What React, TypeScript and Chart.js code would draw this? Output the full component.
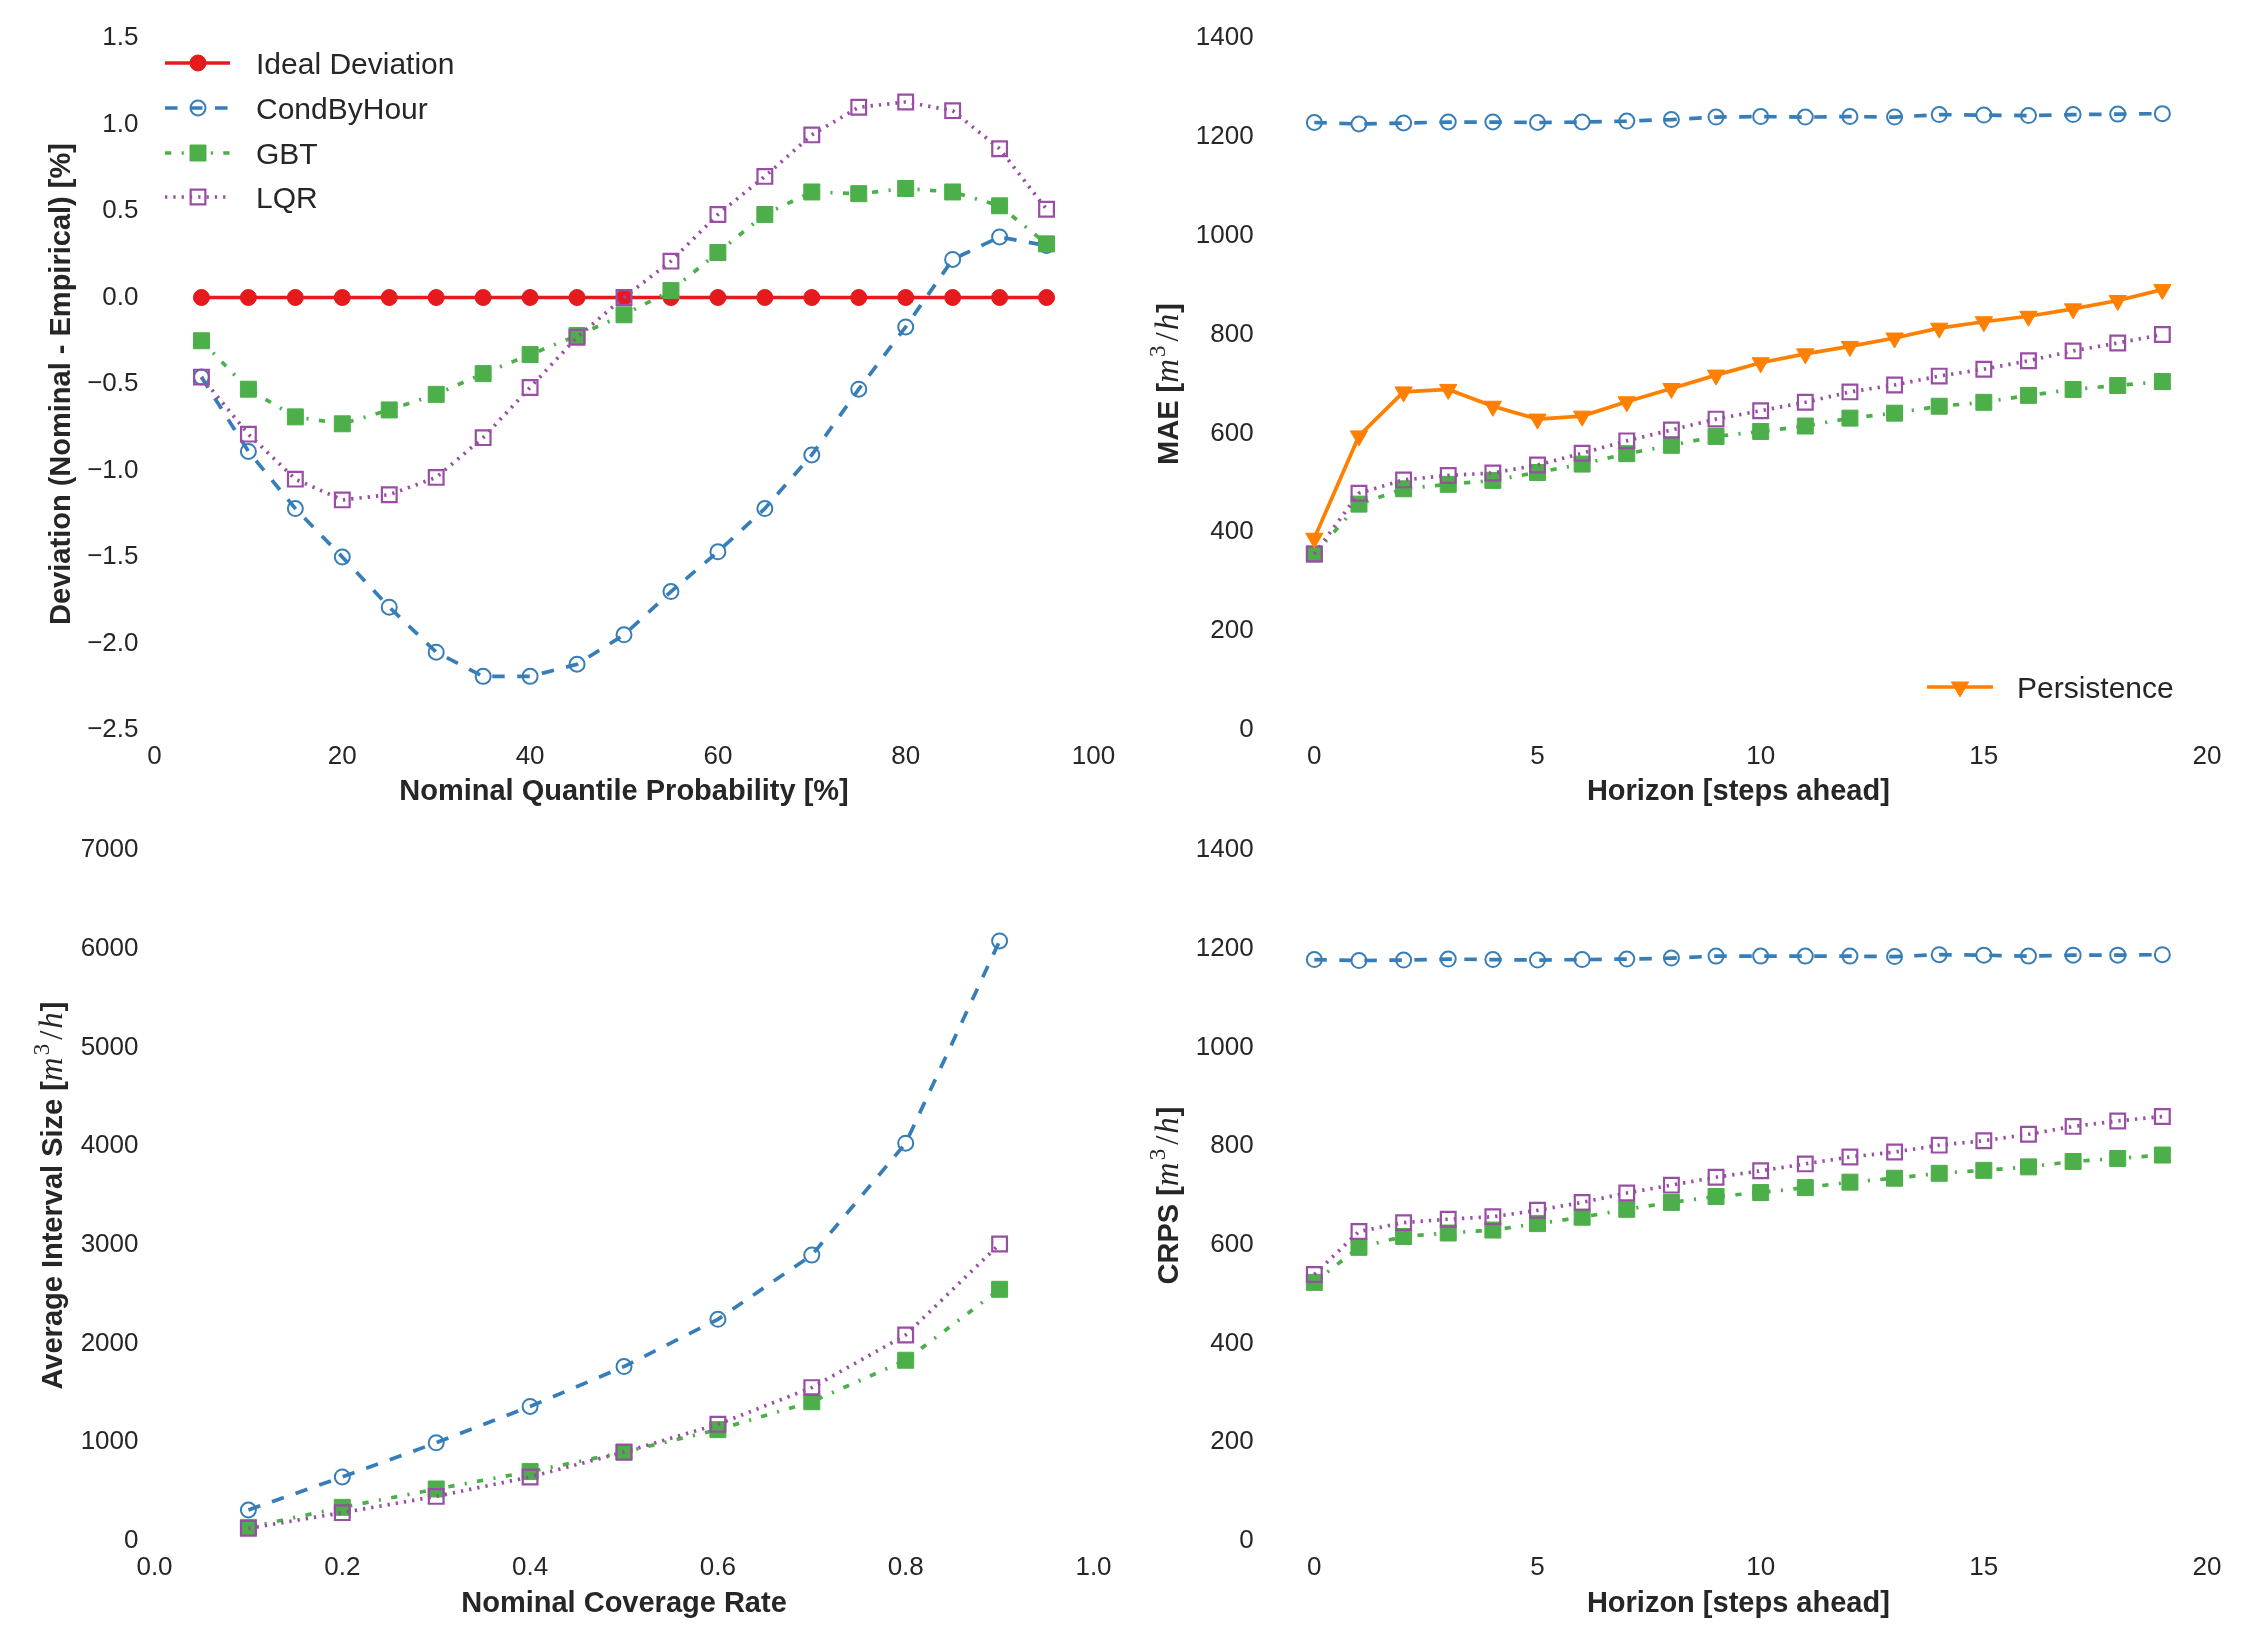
import React, { useEffect, useRef } from 'react';
import { Chart, registerables } from 'chart.js';

Chart.register(...registerables);

const W = 2250;
const H = 1650;

// ---------------- data ----------------
const quantileProbs = [5, 10, 15, 20, 25, 30, 35, 40, 45, 50, 55, 60, 65, 70, 75, 80, 85, 90, 95];
const idealDeviation = [0, 0, 0, 0, 0, 0, 0, 0, 0, 0, 0, 0, 0, 0, 0, 0, 0, 0, 0];
const condByHourDeviation = [-0.46, -0.89, -1.22, -1.5, -1.79, -2.05, -2.19, -2.19, -2.12, -1.95, -1.7, -1.47, -1.22, -0.91, -0.53, -0.17, 0.22, 0.35, 0.3];
const gbtDeviation = [-0.25, -0.53, -0.69, -0.73, -0.65, -0.56, -0.44, -0.33, -0.22, -0.1, 0.04, 0.26, 0.48, 0.61, 0.6, 0.63, 0.61, 0.53, 0.31];
const lqrDeviation = [-0.46, -0.79, -1.05, -1.17, -1.14, -1.04, -0.81, -0.52, -0.23, 0.0, 0.21, 0.48, 0.7, 0.94, 1.1, 1.13, 1.08, 0.86, 0.51];

const horizons = [0, 1, 2, 3, 4, 5, 6, 7, 8, 9, 10, 11, 12, 13, 14, 15, 16, 17, 18, 19];
const condByHourMAE = [1229, 1226, 1228, 1230, 1230, 1229, 1230, 1232, 1235, 1240, 1241, 1240, 1241, 1240, 1245, 1244, 1243, 1245, 1246, 1247];
const gbtMAE = [356, 457, 488, 497, 505, 521, 538, 559, 576, 594, 604, 615, 631, 641, 655, 663, 677, 689, 697, 705];
const lqrMAE = [356, 479, 506, 515, 520, 536, 560, 585, 607, 629, 646, 663, 684, 698, 716, 730, 747, 767, 783, 800];
const persistenceMAE = [388, 595, 684, 689, 655, 629, 635, 664, 691, 718, 743, 761, 776, 793, 813, 826, 837, 852, 869, 891];

const coverageRates = [0.1, 0.2, 0.3, 0.4, 0.5, 0.6, 0.7, 0.8, 0.9];
const condByHourWidth = [314, 649, 995, 1363, 1767, 2246, 2896, 4030, 6079];
const gbtWidth = [138, 341, 527, 703, 900, 1128, 1411, 1831, 2550];
const lqrWidth = [128, 287, 452, 649, 900, 1182, 1554, 2087, 3008];

const condByHourCRPS = [1178, 1176, 1177, 1179, 1178, 1177, 1178, 1179, 1181, 1185, 1185, 1185, 1185, 1184, 1188, 1187, 1185, 1187, 1187, 1188];
const gbtCRPS = [524, 595, 617, 624, 630, 643, 656, 672, 686, 698, 706, 716, 727, 735, 745, 751, 758, 769, 775, 782];
const lqrCRPS = [540, 627, 645, 652, 657, 670, 686, 705, 721, 737, 750, 764, 778, 788, 802, 811, 824, 840, 851, 860];

// tick values
const quantileTicks = [0, 20, 40, 60, 80, 100];
const deviationTicks = [-2.5, -2.0, -1.5, -1.0, -0.5, 0.0, 0.5, 1.0, 1.5];
const horizonTicks = [0, 5, 10, 15, 20];
const maeTicks = [0, 200, 400, 600, 800, 1000, 1200, 1400];
const coverageTicks = [0.0, 0.2, 0.4, 0.6, 0.8, 1.0];
const widthTicks = [0, 1000, 2000, 3000, 4000, 5000, 6000, 7000];

// ---------------- styles ----------------
const SANS = '"Liberation Sans", Arial, Helvetica, sans-serif';
const SERIF = '"Liberation Serif", "DejaVu Serif", serif';
const TEXT = '#262626';
const TICK_FONT = { family: SANS, size: 26 };
const TITLE_SIZE = 29;
const TITLE_FONT = { family: SANS, size: TITLE_SIZE, weight: 'bold' as const };
const LEGEND_SIZE = 30;

const RED = '#e41a1c';
const BLUE = '#377eb8';
const GREEN = '#4daf4a';
const PURPLE = '#984ea3';
const ORANGE = '#ff7f00';

const LW = 3.7;
const DASHED = [12.5, 12.5];
const DASHDOT = [6.25, 10.4, 2.1, 10.4];
const DOTTED = [2.3, 6.0];

type Style = {
  color: string;
  dash: number[];
  point: 'circle' | 'rect' | 'triangle';
  radius: number;
  filled: boolean;
  rotation: number;
  pointBorder: number;
};

const IDEAL: Style = { color: RED, dash: [], point: 'circle', radius: 8, filled: true, rotation: 0, pointBorder: 1 };
const CBH: Style = { color: BLUE, dash: DASHED, point: 'circle', radius: 7.5, filled: false, rotation: 0, pointBorder: 2 };
const GBT: Style = { color: GREEN, dash: DASHDOT, point: 'rect', radius: 11.3, filled: true, rotation: 0, pointBorder: 1 };
const LQR: Style = { color: PURPLE, dash: DOTTED, point: 'rect', radius: 10.4, filled: false, rotation: 0, pointBorder: 2.2 };
const PERS: Style = { color: ORANGE, dash: [], point: 'triangle', radius: 10, filled: true, rotation: 180, pointBorder: 1 };

type Run = { text: string; font: string; dy?: number; gap?: number };

const MATH = TITLE_SIZE + 4;
const boldRun = (t: string): Run => ({ text: t, font: `bold ${TITLE_SIZE}px ${SANS}` });
const unitRuns = (prefix: string): Run[] => [
  boldRun(prefix + ' ['),
  { text: 'm', font: `italic ${MATH}px ${SERIF}`, gap: 2 },
  { text: '3', font: `${Math.round(MATH * 0.7)}px ${SERIF}`, dy: -13, gap: 4 },
  { text: '/', font: `${MATH}px ${SERIF}`, gap: 2 },
  { text: 'h', font: `italic ${MATH}px ${SERIF}`, gap: 1 },
  boldRun(']'),
];

const fmtInt = (v: number) => String(Math.round(v)).replace('-', '\u2212');
const fmt1 = (v: number) => v.toFixed(1).replace('-', '\u2212');

type Series = { label: string; xs: number[]; ys: number[]; style: Style; order: number };
type LegendSpec = { x1: number; x2: number; mx: number; tx: number; rows: { y: number; label: string; style: Style }[] };
type PanelSpec = {
  area: [number, number, number, number];
  padLeft: number;
  xMin: number; xMax: number; xTicks: number[]; xFmt: (v: number) => string;
  yMin: number; yMax: number; yTicks: number[]; yFmt: (v: number) => string;
  xTitle: string; xTitleY: number;
  yTitle: Run[]; yTitleX: number;
  series: Series[];
  legend?: LegendSpec;
};

const PANELS: PanelSpec[] = [
  {
    area: [154.5, 38, 1093.5, 730], padLeft: 0,
    xMin: 0, xMax: 100, xTicks: quantileTicks, xFmt: fmtInt,
    yMin: -2.5, yMax: 1.5, yTicks: deviationTicks, yFmt: fmt1,
    xTitle: 'Nominal Quantile Probability [%]', xTitleY: 792,
    yTitle: [boldRun('Deviation (Nominal - Empirical) [%]')], yTitleX: 60,
    series: [
      { label: 'Ideal Deviation', xs: quantileProbs, ys: idealDeviation, style: IDEAL, order: 4 },
      { label: 'CondByHour', xs: quantileProbs, ys: condByHourDeviation, style: CBH, order: 3 },
      { label: 'GBT', xs: quantileProbs, ys: gbtDeviation, style: GBT, order: 2 },
      { label: 'LQR', xs: quantileProbs, ys: lqrDeviation, style: LQR, order: 1 },
    ],
    legend: {
      x1: 165, x2: 230, mx: 198, tx: 256,
      rows: [
        { y: 63, label: 'Ideal Deviation', style: IDEAL },
        { y: 108, label: 'CondByHour', style: CBH },
        { y: 153, label: 'GBT', style: GBT },
        { y: 197, label: 'LQR', style: LQR },
      ],
    },
  },
  {
    area: [1269.7, 38, 2207, 730], padLeft: 1150,
    xMin: -1, xMax: 20, xTicks: horizonTicks, xFmt: fmtInt,
    yMin: 0, yMax: 1400, yTicks: maeTicks, yFmt: fmtInt,
    xTitle: 'Horizon [steps ahead]', xTitleY: 792,
    yTitle: unitRuns('MAE'), yTitleX: 1168,
    series: [
      { label: 'CondByHour', xs: horizons, ys: condByHourMAE, style: CBH, order: 4 },
      { label: 'GBT', xs: horizons, ys: gbtMAE, style: GBT, order: 3 },
      { label: 'LQR', xs: horizons, ys: lqrMAE, style: LQR, order: 2 },
      { label: 'Persistence', xs: horizons, ys: persistenceMAE, style: PERS, order: 1 },
    ],
    legend: {
      x1: 1927, x2: 1993, mx: 1960, tx: 2017,
      rows: [{ y: 687, label: 'Persistence', style: PERS }],
    },
  },
  {
    area: [154.5, 850, 1093.5, 1541], padLeft: 0,
    xMin: 0, xMax: 1, xTicks: coverageTicks, xFmt: fmt1,
    yMin: 0, yMax: 7000, yTicks: widthTicks, yFmt: fmtInt,
    xTitle: 'Nominal Coverage Rate', xTitleY: 1604,
    yTitle: unitRuns('Average Interval Size'), yTitleX: 52,
    series: [
      { label: 'CondByHour', xs: coverageRates, ys: condByHourWidth, style: CBH, order: 3 },
      { label: 'GBT', xs: coverageRates, ys: gbtWidth, style: GBT, order: 2 },
      { label: 'LQR', xs: coverageRates, ys: lqrWidth, style: LQR, order: 1 },
    ],
  },
  {
    area: [1269.7, 850, 2207, 1541], padLeft: 1150,
    xMin: -1, xMax: 20, xTicks: horizonTicks, xFmt: fmtInt,
    yMin: 0, yMax: 1400, yTicks: maeTicks, yFmt: fmtInt,
    xTitle: 'Horizon [steps ahead]', xTitleY: 1604,
    yTitle: unitRuns('CRPS'), yTitleX: 1168,
    series: [
      { label: 'CondByHour', xs: horizons, ys: condByHourCRPS, style: CBH, order: 3 },
      { label: 'GBT', xs: horizons, ys: gbtCRPS, style: GBT, order: 2 },
      { label: 'LQR', xs: horizons, ys: lqrCRPS, style: LQR, order: 1 },
    ],
  },
];

// ---------------- drawing helpers ----------------
function drawMarker(ctx: CanvasRenderingContext2D, s: Style, x: number, y: number) {
  const r = s.radius;
  ctx.beginPath();
  if (s.point === 'circle') {
    ctx.arc(x, y, r, 0, Math.PI * 2);
  } else if (s.point === 'rect') {
    const h = r * Math.SQRT1_2;
    ctx.rect(x - h, y - h, 2 * h, 2 * h);
  } else {
    let rad = (s.rotation * Math.PI) / 180;
    ctx.moveTo(x + Math.sin(rad) * r, y - Math.cos(rad) * r);
    rad += (2 * Math.PI) / 3;
    ctx.lineTo(x + Math.sin(rad) * r, y - Math.cos(rad) * r);
    rad += (2 * Math.PI) / 3;
    ctx.lineTo(x + Math.sin(rad) * r, y - Math.cos(rad) * r);
    ctx.closePath();
  }
  if (s.filled) {
    ctx.fillStyle = s.color;
    ctx.fill();
  }
  ctx.lineWidth = s.pointBorder;
  ctx.strokeStyle = s.color;
  ctx.stroke();
}

function drawLegend(ctx: CanvasRenderingContext2D, leg: LegendSpec) {
  for (const row of leg.rows) {
    const s = row.style;
    ctx.save();
    ctx.strokeStyle = s.color;
    ctx.lineWidth = LW;
    ctx.lineCap = 'butt';
    ctx.setLineDash(s.dash);
    ctx.beginPath();
    ctx.moveTo(leg.x1, row.y);
    ctx.lineTo(leg.x2, row.y);
    ctx.stroke();
    ctx.setLineDash([]);
    drawMarker(ctx, s, leg.mx, row.y);
    ctx.fillStyle = TEXT;
    ctx.font = `${LEGEND_SIZE}px ${SANS}`;
    ctx.textAlign = 'left';
    ctx.textBaseline = 'alphabetic';
    ctx.fillText(row.label, leg.tx, row.y + (LEGEND_SIZE * 0.716) / 2);
    ctx.restore();
  }
}

function drawRotatedRuns(ctx: CanvasRenderingContext2D, runs: Run[], cx: number, cy: number) {
  ctx.save();
  ctx.translate(cx, cy);
  ctx.rotate(-Math.PI / 2);
  ctx.textAlign = 'left';
  ctx.textBaseline = 'alphabetic';
  ctx.fillStyle = TEXT;
  let total = 0;
  const widths: number[] = [];
  for (const run of runs) {
    ctx.font = run.font;
    const w = ctx.measureText(run.text).width + (run.gap || 0);
    widths.push(w);
    total += w;
  }
  let x = -total / 2;
  const base = (TITLE_SIZE * 0.716) / 2;
  runs.forEach((run, i) => {
    ctx.font = run.font;
    ctx.fillText(run.text, x, base + (run.dy || 0));
    x += widths[i];
  });
  ctx.restore();
}

function buildConfig(p: PanelSpec): any {
  const [l, t, r, b] = p.area;
  const xAxisH = 100;
  const titleLH = TITLE_SIZE * 1.2;
  const extras = {
    id: 'extras',
    afterDraw(chart: any) {
      const ctx = chart.ctx as CanvasRenderingContext2D;
      drawRotatedRuns(ctx, p.yTitle, p.yTitleX, (t + b) / 2);
      if (p.legend) drawLegend(ctx, p.legend);
    },
  };
  return {
    type: 'line',
    data: {
      datasets: p.series.map((s) => ({
        label: s.label,
        data: s.xs.map((x, i) => ({ x, y: s.ys[i] })),
        borderColor: s.style.color,
        backgroundColor: s.style.color,
        borderWidth: LW,
        borderDash: s.style.dash,
        pointStyle: s.style.point,
        pointRadius: s.style.radius,
        pointHoverRadius: s.style.radius,
        pointRotation: s.style.rotation,
        pointBackgroundColor: s.style.filled ? s.style.color : 'rgba(0,0,0,0)',
        pointBorderColor: s.style.color,
        pointBorderWidth: s.style.pointBorder,
        fill: false,
        tension: 0,
        order: s.order,
        clip: false,
      })),
    },
    options: {
      responsive: false,
      maintainAspectRatio: false,
      animation: false,
      devicePixelRatio: 1,
      events: [],
      layout: { padding: { left: p.padLeft, top: t, right: W - r, bottom: H - b - xAxisH } },
      plugins: { legend: { display: false }, tooltip: { enabled: false }, title: { display: false } },
      scales: {
        x: {
          type: 'linear',
          position: 'bottom',
          min: p.xMin,
          max: p.xMax,
          grid: { display: false, drawTicks: false },
          border: { display: false },
          ticks: {
            font: TICK_FONT,
            color: TEXT,
            padding: 11.4,
            autoSkip: false,
            maxRotation: 0,
            minRotation: 0,
            callback: (v: number) => p.xFmt(v),
          },
          afterBuildTicks: (scale: any) => {
            scale.ticks = p.xTicks.map((v) => ({ value: v }));
          },
          afterFit: (scale: any) => {
            scale.height = xAxisH;
          },
          title: {
            display: true,
            text: p.xTitle,
            font: TITLE_FONT,
            color: TEXT,
            padding: { top: 0, bottom: b + xAxisH - titleLH / 2 - p.xTitleY },
          },
        },
        y: {
          type: 'linear',
          position: 'left',
          min: p.yMin,
          max: p.yMax,
          grid: { display: false, drawTicks: false },
          border: { display: false },
          ticks: {
            font: TICK_FONT,
            color: TEXT,
            padding: 16,
            autoSkip: false,
            callback: (v: number) => p.yFmt(v),
          },
          afterBuildTicks: (scale: any) => {
            scale.ticks = p.yTicks.map((v) => ({ value: v }));
          },
          afterFit: (scale: any) => {
            scale.width = l - p.padLeft;
          },
          title: { display: false },
        },
      },
    },
    plugins: [extras],
  };
}

function Panel({ spec }: { spec: PanelSpec }) {
  const ref = useRef<HTMLCanvasElement>(null);
  useEffect(() => {
    if (!ref.current) return;
    const chart = new Chart(ref.current, buildConfig(spec));
    return () => chart.destroy();
  }, [spec]);
  return (
    <canvas
      ref={ref}
      width={W}
      height={H}
      style={{ position: 'absolute', left: 0, top: 0, width: W, height: H }}
    />
  );
}

export default function App() {
  return (
    <div style={{ position: 'absolute', left: 0, top: 0, width: W, height: H, background: '#ffffff', overflow: 'hidden' }}>
      {PANELS.map((p, i) => (
        <Panel key={i} spec={p} />
      ))}
    </div>
  );
}
